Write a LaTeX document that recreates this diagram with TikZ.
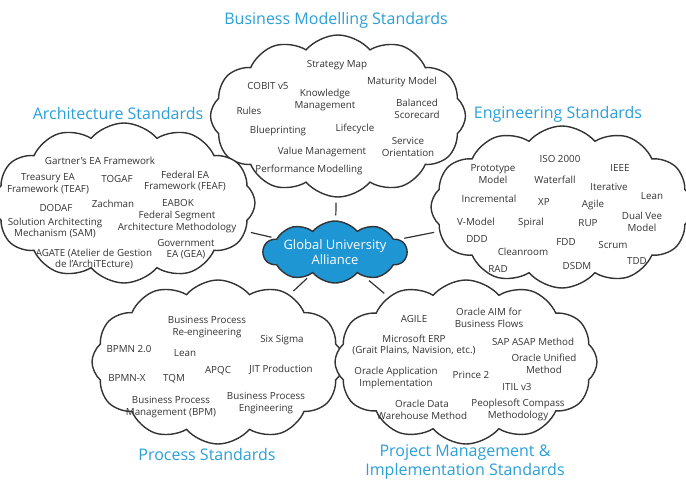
\documentclass[tikz,border=0pt]{standalone}
\usepackage{fontspec}
\setmainfont{Open Sans}
\usetikzlibrary{shapes.symbols}
\definecolor{titleblue}{HTML}{2A9FD8}
\definecolor{inkgray}{HTML}{333333}
\definecolor{hubblue}{HTML}{1E96D3}

\begin{document}
\begin{tikzpicture}[
    x=1pt, y=-1pt,
    bubble/.style={cloud, cloud puffs=12, cloud puff arc=100, cloud ignores aspect, draw=inkgray, line width=1.4pt, fill=white, inner sep=0pt},
    hub/.style={bubble, fill=hubblue, cloud puffs=10, text=white, font=\fontsize{13}{14.5}\selectfont, align=center},
    item/.style={font=\fontsize{9.8}{11.5}\selectfont, text=inkgray, align=center, inner sep=0pt},
    heading/.style={font=\fontsize{16}{18.5}\selectfont, text=titleblue, align=center},
    link/.style={draw=inkgray, line width=1.2pt, shorten >=5pt, shorten <=5pt}
]
\useasboundingbox (0,0) rectangle (686,483);

% Clouds
\node[bubble, minimum width=255, minimum height=162] (bms) at (338,116) {};
\node[bubble, minimum width=262, minimum height=160] (arch) at (124,203) {};
\node[bubble, minimum width=262, minimum height=162] (eng) at (562,207) {};
\node[bubble, minimum width=252, minimum height=164] (proc) at (218,362) {};
\node[bubble, minimum width=262, minimum height=164] (pmis) at (466,362) {};

% Hub
\node[hub, minimum width=136, minimum height=62] (gua) at (335,252) {Global University\\Alliance};

% Links
\draw[link] (gua) -- (bms);
\draw[link] (gua) -- (arch);
\draw[link] (gua) -- (eng);
\draw[link] (gua) -- (proc);
\draw[link] (gua) -- (pmis);

% Headings
\node[heading] (bmsT) at (336,20) {Business Modelling Standards};
\node[heading] (archT) at (118,113) {Architecture Standards};
\node[heading] (engT) at (558,114) {Engineering Standards};
\node[heading] (procT) at (207,454) {Process Standards};
\node[heading] (pmisT) at (465,462) {Project Management \&\\Implementation Standards};

% Business modelling items
\node[item] (smap) at (337,65) {Strategy Map};
\node[item] (cobit) at (268,86) {COBIT v5};
\node[item] (matur) at (402,82) {Maturity Model};
\node[item] (know) at (325,100) {Knowledge\\Management};
\node[item] (rules) at (249,111) {Rules};
\node[item] (bsc) at (417,109) {Balanced\\Scorecard};
\node[item] (blue) at (278,131) {Blueprinting};
\node[item] (life) at (355,129) {Lifecycle};
\node[item] (soa) at (408,147) {Service\\Orientation};
\node[item] (value) at (322,152) {Value Management};
\node[item] (perf) at (309,170) {Performance Modelling};

% Architecture items
\node[item] (gartner) at (100,161) {Gartner's EA Framework};
\node[item] (teaf) at (48,184) {Treasury EA\\Framework (TEAF)};
\node[item] (togaf) at (117,179) {TOGAF};
\node[item] (feaf) at (185,181) {Federal EA\\Framework (FEAF)};
\node[item] (dodaf) at (56,208) {DODAF};
\node[item] (zach) at (113,204) {Zachman};
\node[item] (eabok) at (178,203) {EABOK};
\node[item] (sam) at (55,228) {Solution Architecting\\Mechanism (SAM)};
\node[item] (fsam) at (177,222) {Federal Segment\\Architecture Methodology};
\node[item] (gea) at (186,249) {Government\\EA (GEA)};
\node[item] (agate) at (94,259) {AGATE (Atelier de Gestion\\de l'ArchiTEcture)};

% Engineering items
\node[item] (iso) at (560,159) {ISO 2000};
\node[item] (proto) at (493,174) {Prototype\\Model};
\node[item] (ieee) at (620,168) {IEEE};
\node[item] (water) at (555,180) {Waterfall};
\node[item] (iter) at (609,187) {Iterative};
\node[item] (leanE) at (652,196) {Lean};
\node[item] (incr) at (489,199) {Incremental};
\node[item] (xp) at (544,202) {XP};
\node[item] (agile) at (593,205) {Agile};
\node[item] (vmod) at (476,222) {V-Model};
\node[item] (spiral) at (531,223) {Spiral};
\node[item] (rup) at (588,223) {RUP};
\node[item] (dvee) at (642,222) {Dual Vee\\Model};
\node[item] (ddd) at (477,239) {DDD};
\node[item] (fdd) at (566,242) {FDD};
\node[item] (scrum) at (613,245) {Scrum};
\node[item] (clean) at (523,252) {Cleanroom};
\node[item] (tdd) at (637,261) {TDD};
\node[item] (rad) at (498,269) {RAD};
\node[item] (dsdm) at (577,266) {DSDM};

% Process items
\node[item] (bpr) at (207,327) {Business Process\\Re-engineering};
\node[item] (six) at (282,340) {Six Sigma};
\node[item] (bpmn) at (129,349) {BPMN 2.0};
\node[item] (leanP) at (185,353) {Lean};
\node[item] (apqc) at (218,371) {APQC};
\node[item] (jit) at (281,370) {JIT Production};
\node[item] (bpmnx) at (127,378) {BPMN-X};
\node[item] (tqm) at (174,379) {TQM};
\node[item] (bpm) at (171,407) {Business Process\\Management (BPM)};
\node[item] (bpe) at (266,403) {Business Process\\Engineering};

% Project management items
\node[item] (agileP) at (414,319) {AGILE};
\node[item] (aim) at (489,318) {Oracle AIM for\\Business Flows};
\node[item] (mserp) at (414,345) {Microsoft ERP\\(Grait Plains, Navision, etc.)};
\node[item] (asap) at (533,342) {SAP ASAP Method};
\node[item] (oum) at (544,364) {Oracle Unified\\Method};
\node[item] (oai) at (396,378) {Oracle Application\\Implementation};
\node[item] (prince) at (471,375) {Prince 2};
\node[item] (itil) at (517,387) {ITIL v3};
\node[item] (odw) at (422,410) {Oracle Data\\Warehouse Method};
\node[item] (psc) at (518,410) {Peoplesoft Compass\\Methodology};

\end{tikzpicture}
\end{document}
